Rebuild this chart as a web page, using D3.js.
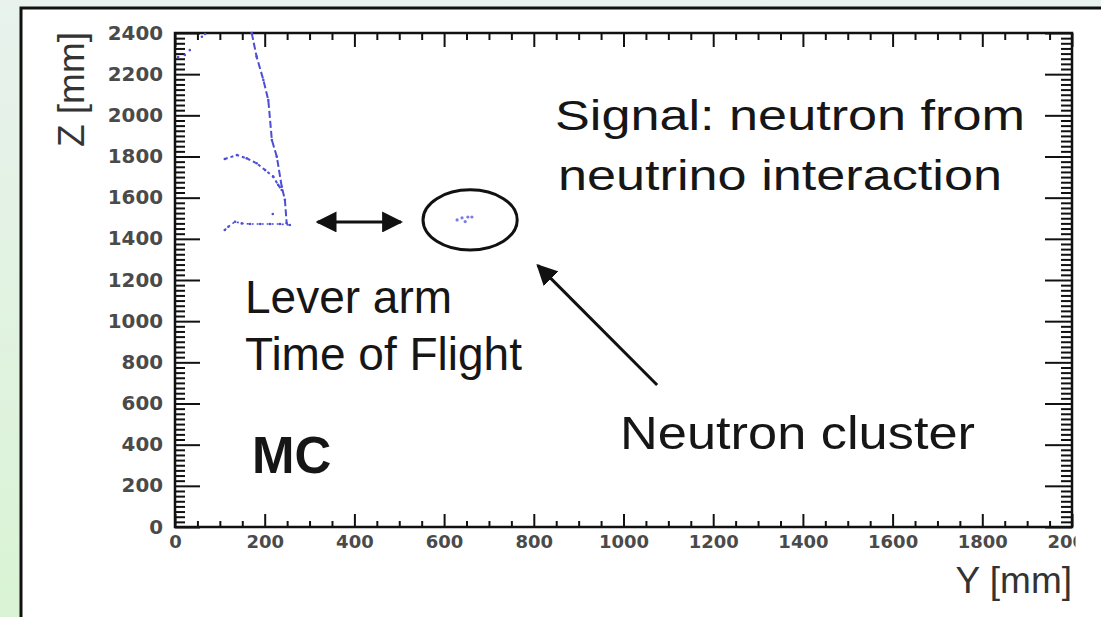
<!DOCTYPE html>
<html>
<head>
<meta charset="utf-8">
<script src="https://cdn.jsdelivr.net/npm/d3@7/dist/d3.min.js"></script>
<style>
  body { margin: 0; overflow: hidden; background: #fff; }
</style>
</head>
<body>
<svg width="1101" height="617"></svg>
<script>
// tick labels
const yMajor = [0, 200, 400, 600, 800, 1000, 1200, 1400, 1600, 1800, 2000, 2200, 2400]
const xMajor = [0, 200, 400, 600, 800, 1000, 1200, 1400, 1600, 1800, 2000]

const mainTrack = [[171, 2400], [182, 2285], [197, 2172], [208, 2074], [216, 1880],
  [227, 1799], [238, 1653], [245, 1590], [249, 1476]]
const arcTrack = [[111, 1788], [138, 1807], [160, 1791], [182, 1767], [201, 1734],
  [219, 1702], [230, 1662], [238, 1637]]
const lowTrack = [[111, 1443], [119, 1459], [134, 1483], [149, 1475], [167, 1472],
  [190, 1472], [212, 1472], [234, 1472], [256, 1467]]
const cornerHits = [[7, 2283], [22, 2293], [33, 2317], [60, 2382], [67, 2395], [218, 1521]]
const clusterHits = [[629, 1492], [640, 1502], [653, 1506], [647, 1484], [662, 1506]]

const svg = d3.select("svg")
const width = +svg.attr("width")
const height = +svg.attr("height")

const margin = { top: 33, left: 175, right: width - 1072, bottom: height - 527 }
const innerWidth = width - margin.left - margin.right
const innerHeight = height - margin.top - margin.bottom

// background (slide) + white frame
const defs = svg.append("defs")
const grad = defs.append("linearGradient").attr("id", "bg")
  .attr("x1", 0).attr("y1", 0).attr("x2", 0).attr("y2", 1)
grad.append("stop").attr("offset", "0%").attr("stop-color", "#e9f2ee")
grad.append("stop").attr("offset", "100%").attr("stop-color", "#d9f3d4")
// the last x label is cut by the slide crop in the original
defs.append("clipPath").attr("id", "lastclip")
  .append("rect").attr("x", -60).attr("y", 0).attr("width", 63).attr("height", 40)

svg.append("rect").attr("width", width).attr("height", height).attr("fill", "url(#bg)")
svg.append("rect").attr("x", 21).attr("y", 8).attr("width", width).attr("height", height)
  .attr("fill", "#fff").attr("stroke", "#111").attr("stroke-width", 3)

const xScale = d3.scaleLinear().domain([0, 2000]).range([0, innerWidth])
const yScale = d3.scaleLinear().domain([0, 2400]).range([innerHeight, 0])

const g = svg.append("g").attr("transform", `translate(${margin.left},${margin.top})`)

const xMinor = d3.range(0, 2001, 50).filter(v => v % 200 !== 0)
const yMinor = d3.range(0, 2401, 25).filter(v => v % 200 !== 0)

function styleAxis(sel) {
  sel.select(".domain").remove()
  sel.selectAll("line").attr("stroke", "#111").attr("stroke-width", 2)
}
function noLabels(sel) {
  sel.selectAll("text").remove()
}

// bottom
g.append("g").attr("transform", `translate(0,${innerHeight})`)
  .call(d3.axisBottom(xScale).tickValues(xMinor).tickSize(-6))
  .call(styleAxis).call(noLabels)
const xAxisG = g.append("g").attr("transform", `translate(0,${innerHeight})`)
  .call(d3.axisBottom(xScale).tickValues(xMajor).tickSize(-13).tickPadding(8).tickFormat(d3.format("d")))
  .call(styleAxis)
xAxisG.selectAll("text")
  .attr("font-family", "DejaVu Sans").attr("font-weight", "bold")
  .attr("font-size", 18).attr("fill", "#4a4a4a")
xAxisG.selectAll("text").filter(d => d === 2000).attr("clip-path", "url(#lastclip)")

// top
g.append("g")
  .call(d3.axisTop(xScale).tickValues(xMinor).tickSize(-7))
  .call(styleAxis).call(noLabels)
g.append("g")
  .call(d3.axisTop(xScale).tickValues(xMajor).tickSize(-14))
  .call(styleAxis).call(noLabels)

// left
g.append("g")
  .call(d3.axisLeft(yScale).tickValues(yMinor).tickSize(-10))
  .call(styleAxis).call(noLabels)
const yAxisG = g.append("g")
  .call(d3.axisLeft(yScale).tickValues(yMajor).tickSize(-25).tickPadding(12).tickFormat(d3.format("d")))
  .call(styleAxis)
yAxisG.selectAll("text")
  .attr("font-family", "DejaVu Sans").attr("font-weight", "bold")
  .attr("font-size", 19).attr("fill", "#4a4a4a")
  .attr("textLength", function () { return this.textContent.length * 13.8 })
  .attr("lengthAdjust", "spacingAndGlyphs")

// right
g.append("g").attr("transform", `translate(${innerWidth},0)`)
  .call(d3.axisRight(yScale).tickValues(yMinor).tickSize(-11))
  .call(styleAxis).call(noLabels)
g.append("g").attr("transform", `translate(${innerWidth},0)`)
  .call(d3.axisRight(yScale).tickValues(yMajor).tickSize(-27))
  .call(styleAxis).call(noLabels)

g.append("rect").attr("width", innerWidth).attr("height", innerHeight)
  .attr("fill", "none").attr("stroke", "#111").attr("stroke-width", 2.5)

// axis titles
svg.append("text")
  .attr("x", 1072).attr("y", 593)
  .attr("text-anchor", "end")
  .attr("font-family", "Liberation Sans, Arial, sans-serif")
  .attr("font-size", 37).attr("fill", "#333")
  .text("Y [mm]")
svg.append("text")
  .attr("transform", "translate(84,32) rotate(-90)")
  .attr("text-anchor", "end")
  .attr("font-family", "Liberation Sans, Arial, sans-serif")
  .attr("font-size", 37).attr("fill", "#333")
  .text("Z [mm]")

// tracks
const line = d3.line().x(d => xScale(d[0])).y(d => yScale(d[1])).curve(d3.curveLinear)
const trackColor = "#4d4dd6"

g.append("path").datum(mainTrack)
  .attr("d", line).attr("fill", "none")
  .attr("stroke", trackColor).attr("stroke-width", 2)
  .attr("stroke-dasharray", "7,3")
g.append("path").datum(arcTrack)
  .attr("d", line).attr("fill", "none")
  .attr("stroke", trackColor).attr("stroke-width", 2)
  .attr("stroke-dasharray", "3,3")
g.append("path").datum(lowTrack)
  .attr("d", line).attr("fill", "none")
  .attr("stroke", trackColor).attr("stroke-width", 1.6)
  .attr("stroke-dasharray", "2,3")

g.selectAll("circle.hit")
  .data(mainTrack.concat(arcTrack, lowTrack, cornerHits))
  .enter().append("circle").attr("class", "hit")
  .attr("cx", d => xScale(d[0])).attr("cy", d => yScale(d[1]))
  .attr("r", 1.3).attr("fill", trackColor)

g.selectAll("circle.cluster")
  .data(clusterHits)
  .enter().append("circle").attr("class", "cluster")
  .attr("cx", d => xScale(d[0])).attr("cy", d => yScale(d[1]))
  .attr("r", 1.6).attr("fill", "#7a7ae8")

// annotations
defs.append("marker").attr("id", "head")
  .attr("viewBox", "0 0 10 10").attr("refX", 9).attr("refY", 5)
  .attr("markerWidth", 7).attr("markerHeight", 7).attr("markerUnits", "strokeWidth")
  .attr("orient", "auto-start-reverse")
  .append("path").attr("d", "M0,0L10,5L0,10Z").attr("fill", "#111")

g.append("line")
  .attr("x1", xScale(318)).attr("y1", yScale(1482))
  .attr("x2", xScale(504)).attr("y2", yScale(1482))
  .attr("stroke", "#111").attr("stroke-width", 3)
  .attr("marker-start", "url(#head)").attr("marker-end", "url(#head)")

g.append("ellipse")
  .attr("cx", xScale(658)).attr("cy", yScale(1492))
  .attr("rx", xScale(105) - xScale(0)).attr("ry", yScale(0) - yScale(146))
  .attr("fill", "none").attr("stroke", "#111").attr("stroke-width", 3)

g.append("line")
  .attr("x1", xScale(1075)).attr("y1", yScale(690))
  .attr("x2", xScale(809)).attr("y2", yScale(1271))
  .attr("stroke", "#111").attr("stroke-width", 3)
  .attr("marker-end", "url(#head)")

const notes = [
  { t: "Signal: neutron from", x: 555, y: 130, size: 43, len: 470 },
  { t: "neutrino interaction", x: 558, y: 190, size: 43, len: 444 },
  { t: "Lever arm", x: 245, y: 313, size: 46 },
  { t: "Time of Flight", x: 245, y: 370, size: 46 },
  { t: "Neutron cluster", x: 620, y: 449, size: 46, len: 355 },
  { t: "MC", x: 252, y: 473, size: 51, bold: true }
]
notes.forEach(n => {
  const t = svg.append("text")
    .attr("x", n.x).attr("y", n.y)
    .attr("font-family", "Liberation Sans, Arial, sans-serif")
    .attr("font-size", n.size)
    .attr("font-weight", n.bold ? "bold" : "normal")
    .attr("fill", "#161616")
    .text(n.t)
  if (n.len) t.attr("textLength", n.len).attr("lengthAdjust", "spacingAndGlyphs")
})
</script>
</body>
</html>
